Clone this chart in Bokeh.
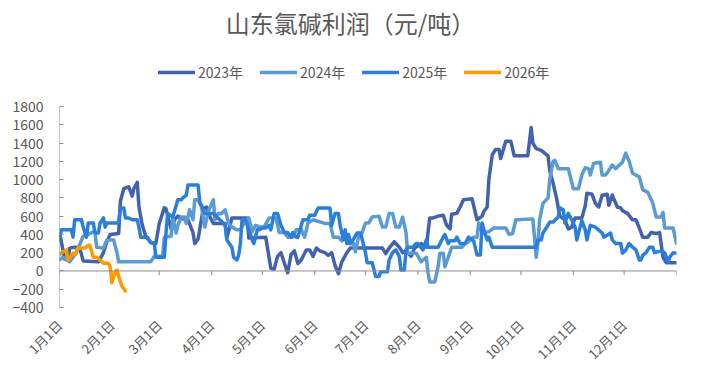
import math
from datetime import date
from bokeh.plotting import figure
from bokeh.models import Range1d, Span, Legend, LegendItem, FixedTicker, Label
from bokeh.embed import file_html
from bokeh.resources import INLINE

# ---------------- data (day of year, value) ----------------
days23 = [0, 1, 3, 5, 6, 9, 12, 14, 23, 26,
          28, 30, 35, 36, 38, 41, 43, 44, 46, 47,
          49, 51, 54, 57, 59, 62, 63, 66, 68, 70,
          73, 76, 79, 80, 82, 85, 87, 89, 91, 98,
          99, 102, 111, 112, 122, 125, 127, 129, 131, 134,
          135, 137, 139, 141, 143, 146, 148, 150, 152, 154,
          157, 159, 161, 163, 165, 167, 170, 172, 191, 193,
          195, 198, 201, 203, 205, 208, 210, 214, 217, 219,
          221, 224, 227, 229, 231, 232, 235, 237, 239, 244,
          246, 247, 250, 251, 253, 254, 256, 258, 260, 261,
          264, 267, 269, 277, 279, 280, 282, 285, 287, 289,
          290, 292, 294, 296, 299, 301, 303, 305, 309, 311,
          312, 315, 317, 319, 321, 324, 325, 327, 330, 332,
          333, 336, 339, 341, 343, 345, 348, 350, 353, 355,
          357, 359, 365]
vals23 = [400, 330, 130, 120, 250, 260, 250, 110, 100, 200,
          320, 400, 410, 760, 900, 920, 820, 900, 970, 700,
          500, 380, 310, 300, 520, 690, 680, 460, 560, 600,
          570, 560, 420, 300, 350, 680, 700, 590, 520, 520,
          360, 580, 580, 360, 370, 30, 20, 160, 200, 30,
          -20, 180, 220, 80, 120, 230, 230, 160, 250, 220,
          200, 170, 200, 60, -30, 100, 200, 250, 250, 190,
          250, 320, 260, 200, 220, 160, 250, 300, 260, 580,
          580, 600, 610, 500, 460, 620, 630, 700, 780, 790,
          640, 560, 600, 650, 700, 1000, 1270, 1330, 1330, 1230,
          1420, 1420, 1260, 1260, 1570, 1400, 1340, 1320, 1290, 1260,
          1100, 960, 800, 600, 560, 460, 480, 580, 580, 710,
          850, 840, 740, 700, 830, 840, 720, 830, 700, 690,
          660, 630, 560, 560, 470, 370, 370, 420, 410, 420,
          150, 90, 90]

days24 = [0, 2, 6, 10, 14, 17, 20, 21, 22, 26,
          28, 32, 34, 35, 54, 56, 61, 62, 66, 67,
          69, 70, 72, 74, 75, 77, 79, 80, 82, 84,
          86, 88, 91, 92, 94, 96, 98, 100, 102, 105,
          107, 109, 112, 114, 116, 119, 121, 124, 128, 130,
          133, 135, 138, 140, 143, 145, 147, 150, 157, 160,
          162, 165, 167, 169, 171, 174, 175, 177, 179, 181,
          183, 185, 189, 191, 193, 195, 197, 199, 201, 203,
          205, 206, 211, 214, 217, 218, 219, 222, 224, 225,
          227, 228, 230, 232, 238, 240, 242, 245, 247, 248,
          250, 254, 257, 264, 266, 268, 270, 280, 281, 282,
          283, 284, 286, 289, 290, 292, 293, 295, 301, 304,
          307, 309, 311, 313, 314, 316, 320, 321, 323, 325,
          327, 329, 333, 335, 337, 339, 343, 345, 348, 351,
          353, 356, 357, 358, 363, 365]
vals24 = [120, 150, 100, 200, 380, 400, 430, 420, 260, 250,
          340, 340, 200, 100, 100, 160, 160, 370, 380, 580,
          415, 500, 590, 590, 520, 670, 560, 780, 780, 700,
          480, 650, 780, 560, 630, 630, 670, 520, 480, 450,
          450, 520, 580, 430, 500, 480, 480, 580, 580, 420,
          420, 370, 370, 450, 450, 370, 525, 560, 520, 520,
          370, 370, 330, 430, 300, 300, 210, 380, 415, 525,
          525, 590, 600, 480, 480, 630, 630, 480, 480, 590,
          420, 195, 195, 100, 150, -20, -120, -120, 50, 195,
          195, 45, 150, 260, 260, 300, 320, 370, 370, 525,
          420, 430, 470, 470, 400, 410, 560, 570, 370, 150,
          300, 560, 740, 800, 1000, 1200, 1210, 1120, 1120, 900,
          900, 1050, 1130, 1120, 1050, 1180, 1190, 1050, 1050, 1100,
          1160, 1120, 1190, 1290, 1200, 1070, 1030, 890, 860, 740,
          590, 590, 640, 470, 470, 300]

days25 = [0, 1, 7, 8, 9, 13, 14, 16, 17, 20,
          21, 23, 24, 26, 27, 28, 35, 36, 38, 39,
          41, 43, 46, 47, 48, 52, 54, 56, 57, 62,
          63, 64, 67, 70, 72, 73, 75, 76, 82, 83,
          84, 86, 91, 93, 95, 98, 99, 102, 103, 105,
          106, 107, 108, 110, 112, 114, 115, 117, 118, 120,
          122, 124, 125, 127, 129, 131, 133, 135, 137, 138,
          140, 141, 144, 147, 148, 151, 153, 160, 161, 163,
          165, 166, 168, 169, 170, 171, 172, 174, 176, 178,
          179, 181, 182, 185, 187, 189, 190, 194, 195, 197,
          199, 201, 202, 204, 205, 206, 209, 211, 212, 215,
          217, 218, 224, 227, 228, 230, 231, 234, 235, 237,
          240, 242, 245, 247, 249, 250, 251, 253, 254, 256,
          282, 283, 285, 286, 289, 290, 292, 295, 296, 298,
          299, 301, 303, 305, 306, 308, 309, 311, 312, 314,
          317, 321, 322, 326, 327, 329, 332, 333, 335, 337,
          339, 341, 343, 344, 345, 347, 349, 351, 352, 356,
          358, 360, 361, 363, 365]
vals25 = [340, 450, 450, 370, 560, 560, 480, 370, 525, 525,
          415, 415, 525, 580, 480, 525, 525, 690, 690, 580,
          580, 560, 560, 480, 370, 370, 310, 310, 150, 150,
          415, 630, 590, 780, 780, 800, 830, 940, 940, 750,
          720, 630, 630, 590, 560, 500, 340, 260, 150, 120,
          175, 300, 560, 560, 450, 340, 300, 450, 450, 470,
          470, 500, 450, 630, 630, 500, 420, 420, 370, 420,
          370, 370, 560, 560, 610, 610, 690, 690, 500, 630,
          630, 500, 340, 450, 300, 400, 300, 350, 415, 415,
          350, 200, 90, 90, -60, -60, -10, -10, 120, 200,
          230, 160, 10, 10, 230, 260, 260, 300, 300, 230,
          340, 260, 260, 370, 400, 300, 330, 330, 370, 300,
          300, 370, 330, 175, 175, 525, 450, 340, 370, 260,
          260, 340, 340, 415, 500, 535, 535, 590, 690, 670,
          525, 630, 560, 480, 340, 480, 550, 450, 340, 500,
          480, 415, 370, 415, 340, 300, 300, 195, 230, 300,
          260, 230, 120, 120, 170, 200, 260, 260, 200, 220,
          200, 100, 150, 200, 195]

days26 = [0, 2, 4, 5, 8, 9, 11, 15, 17, 18,
          20, 22, 24, 26, 29, 30, 31, 33, 34, 35,
          37, 39]
vals26 = [175, 210, 230, 120, 195, 175, 250, 250, 280, 280,
          150, 150, 120, 85, 85, 40, -130, -10, 10, -60,
          -170, -220]

series_names = ["2023年", "2024年", "2025年", "2026年"]
series_colors = ["#4262AD", "#5B9BD5", "#2B7FDA", "#FF9A00"]

title_text = "山东氯碱利润（元/吨）"
month_labels = ["1月1日", "2月1日", "3月1日", "4月1日", "5月1日", "6月1日",
                "7月1日", "8月1日", "9月1日", "10月1日", "11月1日", "12月1日"]
y_ticks = [-400, -200, 0, 200, 400, 600, 800, 1000, 1200, 1400, 1600, 1800]

# month starts as day-of-year (non leap year)
month_days = [(date(2023, m, 1) - date(2023, 1, 1)).days for m in range(1, 13)]
year_len = (date(2024, 1, 1) - date(2023, 1, 1)).days

FONT = "Noto Sans CJK SC"
TEXT = "#595959"
AXIS = "#8C8C8C"

# layout (pixels): the frame spans the whole top so title/legend can live inside it
W, H = 709, 383
LEFT, RIGHT, BOTTOM = 59, 33, 76
PLOT_TOP = 106                     # pixel row of the top tick (1800)
frame_h = H - BOTTOM
y_span = y_ticks[-1] - y_ticks[0]
y_top = y_ticks[-1] + y_span * PLOT_TOP / (frame_h - PLOT_TOP)

p = figure(width=W, height=H, output_backend="svg", toolbar_location=None,
           x_range=Range1d(0, year_len), y_range=Range1d(y_ticks[0], y_top),
           min_border_left=LEFT, min_border_right=RIGHT, min_border_bottom=BOTTOM,
           min_border_top=0,
           background_fill_color="white", border_fill_color="white",
           outline_line_color=None)

p.grid.visible = False

# y axis (line drawn only over the tick span)
p.yaxis.ticker = FixedTicker(ticks=y_ticks)
p.yaxis.minor_tick_line_color = None
p.yaxis.axis_line_color = None
p.yaxis.major_tick_line_color = AXIS
p.yaxis.major_tick_in = 4
p.yaxis.major_tick_out = 0
p.yaxis.major_label_standoff = 16
p.yaxis.major_label_text_font = FONT
p.yaxis.major_label_text_font_size = "14px"
p.yaxis.major_label_text_color = TEXT
p.segment(x0=[0], y0=[y_ticks[0]], x1=[0], y1=[y_ticks[-1]], line_color=AXIS, line_width=1)

# x axis: labels only, at bottom
p.xaxis.ticker = FixedTicker(ticks=month_days)
p.xaxis.major_label_overrides = {d: lab for d, lab in zip(month_days, month_labels)}
p.xaxis.minor_tick_line_color = None
p.xaxis.major_tick_line_color = None
p.xaxis.axis_line_color = None
p.xaxis.major_label_orientation = math.pi / 4
p.xaxis.major_label_standoff = 9
p.xaxis.major_label_text_font = FONT
p.xaxis.major_label_text_font_size = "13px"
p.xaxis.major_label_text_color = TEXT

# zero line with month ticks
p.add_layout(Span(location=0, dimension="width", line_color=AXIS, line_width=1))
tick_x = month_days + [year_len]
p.segment(x0=tick_x, y0=[0] * len(tick_x), x1=tick_x, y1=[-45] * len(tick_x),
          line_color=AXIS, line_width=1)

renderers = []
for d, v, c in zip([days23, days24, days25, days26],
                   [vals23, vals24, vals25, vals26], series_colors):
    r = p.line(d, v, line_color=c, line_width=3.5, line_join="round", line_cap="round")
    renderers.append(r)

# title (screen units relative to the frame's bottom-left)
p.add_layout(Label(x=291, y=frame_h - 22, x_units="screen", y_units="screen", text=title_text,
                   text_align="center", text_baseline="middle", text_font=FONT,
                   text_font_size="24px", text_color=TEXT))

legend = Legend(items=[LegendItem(label=n, renderers=[r]) for n, r in zip(series_names, renderers)],
                orientation="horizontal", location=(99, frame_h - 82),
                border_line_color=None, background_fill_alpha=0,
                label_text_font=FONT, label_text_font_size="14px", label_text_color=TEXT,
                glyph_width=37, glyph_height=18, label_standoff=3, spacing=17,
                padding=0, margin=0)
p.add_layout(legend, "center")

open("out.html", "w").write(file_html(p, INLINE))
